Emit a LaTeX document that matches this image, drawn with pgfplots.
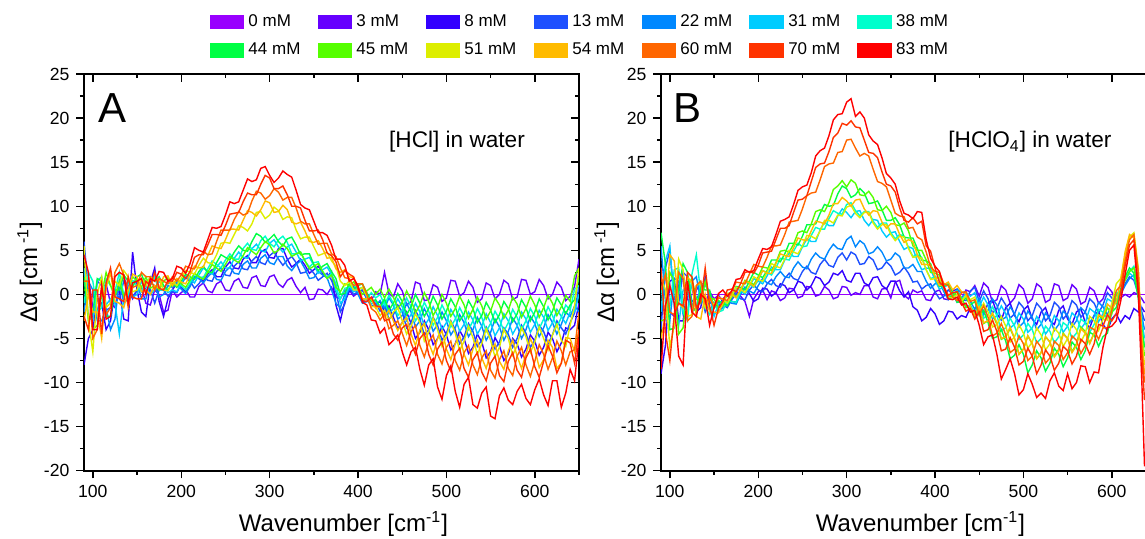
\documentclass[border=0pt]{standalone}
\usepackage{pgfplots}
\usepackage{pgfplotstable}
\usepackage{fontspec}
\setmainfont{Liberation Sans}
\pgfplotsset{compat=1.18}
\definecolor{c0}{HTML}{9900FF}
\definecolor{c1}{HTML}{6600FF}
\definecolor{c2}{HTML}{3300FF}
\definecolor{c3}{HTML}{1E50FF}
\definecolor{c4}{HTML}{0088FF}
\definecolor{c5}{HTML}{00CCFF}
\definecolor{c6}{HTML}{00FFCC}
\definecolor{c7}{HTML}{00FF44}
\definecolor{c8}{HTML}{55FF00}
\definecolor{c9}{HTML}{DDEE00}
\definecolor{c10}{HTML}{FFBB00}
\definecolor{c11}{HTML}{FF6600}
\definecolor{c12}{HTML}{FF3300}
\definecolor{c13}{HTML}{FF0000}

\pgfplotstableread{
x s1 s2 s3 s4 s5 s6 s7 s8 s9 s10 s11 s12 s13
90 1.0 -8.0 6.0 -2.0 3.0 -1.0 2.0 0.5 5.5 -3.0 1.5 -2.5 4.5
95 1.8 -5.0 0.5 1.5 -2.5 2.5 -3.0 0.5 -3.0 0.0 1.5 -4.0 2.5
100 -1.5 -4.0 -2.5 0.5 -3.0 1.5 -2.0 -4.0 -6.5 -2.0 -5.0 0.5 -4.0
105 -2.0 -0.5 1.5 -3.0 1.5 -2.0 1.8 -3.5 0.0 -2.0 -4.0 0.5 -4.0
110 0.5 -1.0 1.0 -3.0 2.0 -1.5 1.5 0.0 2.0 -5.0 1.0 -4.5 1.0
115 1.2 -4.0 -1.8 -1.5 -1.2 1.8 -2.5 2.5 -1.5 0.8 -2.3 1.3 -2.8
120 -1.0 -3.0 -1.5 -4.0 -0.5 1.0 -2.5 1.0 -1.0 2.5 -1.5 3.0 -2.5
125 -1.5 0.3 0.5 -2.8 -1.0 0.3 0.5 -0.3 1.5 -0.8 2.5 -0.3 2.0
130 1.0 0.5 -0.5 1.5 -4.5 2.5 0.5 1.5 1.0 -1.0 3.5 -0.5 2.5
135 2.0 -2.8 1.5 -1.0 -0.3 0.0 2.2 -0.2 2.7 -1.5 2.2 -0.8 2.2
140 0.5 -3.0 1.0 -0.5 1.5 0.0 1.5 0.5 2.0 0.5 -1.5 2.0 -1.0
145 -0.5 4.8 -0.3 1.5 -0.3 1.5 0.8 2.0 0.3 2.3 0.8 -0.3 1.3
150 0.5 0.5 0.5 1.5 0.0 1.0 2.0 1.5 0.5 2.0 1.0 -0.5 1.5
155 0.8 -2.0 1.5 -0.5 1.5 0.3 2.3 0.8 1.8 0.3 2.5 -0.5 1.8
160 -1.0 -2.5 0.5 -0.5 1.0 1.5 1.0 2.0 1.0 0.5 2.0 1.5 0.0
165 -1.2 1.3 0.6 1.3 0.0 1.0 2.0 0.7 2.0 0.0 2.0 1.0 1.8
170 0.5 3.0 -1.0 1.0 0.5 2.0 1.5 1.0 1.5 1.0 0.5 2.5 1.5
175 0.0 -0.8 0.5 -0.3 1.5 0.5 2.0 0.5 1.8 0.7 1.8 0.7 2.6
180 -2.0 -2.5 0.5 0.0 1.0 0.5 1.0 1.5 0.5 2.0 1.5 0.5 2.5
185 -1.8 -0.5 -0.2 1.0 0.2 1.4 0.5 1.9 0.4 2.1 1.2 1.6 1.5
190 0.5 0.5 0.3 0.8 0.5 1.0 1.2 1.0 1.5 1.0 2.0 1.5 1.8
195 -0.3 1.3 0.2 1.3 0.3 1.6 0.8 1.7 1.0 1.8 1.5 2.5 3.2
200 0.2 0.8 1.2 0.6 1.3 1.0 1.5 1.2 1.8 1.4 2.2 2.3 3.0
205 0.6 0.3 1.9 0.1 2.1 0.5 2.3 0.8 2.7 1.2 3.2 1.8 2.4
210 -0.3 1.0 1.5 0.9 1.7 1.3 2.0 1.6 2.5 2.2 3.0 2.6 3.5
215 -0.3 2.0 0.7 2.0 1.3 2.3 1.7 2.4 2.3 3.2 2.9 4.2 5.3
220 0.9 1.8 1.2 1.8 2.2 2.0 2.6 2.0 3.3 3.0 4.0 4.5 5.0
225 1.3 1.5 2.0 1.3 3.0 1.9 3.2 1.7 4.1 3.1 4.9 4.5 4.8
230 0.4 2.3 1.6 2.0 2.6 2.9 2.5 2.5 3.6 4.4 4.5 5.6 6.2
235 0.2 2.8 1.5 2.5 2.3 3.8 2.5 3.4 3.5 5.5 4.6 6.8 7.6
240 1.2 2.0 2.6 1.7 3.1 3.4 3.6 3.0 4.5 5.3 6.0 6.8 7.5
245 1.5 2.0 3.0 1.6 3.7 3.0 4.5 2.6 5.8 5.2 7.3 6.7 7.7
250 0.5 3.1 2.2 2.6 3.0 3.9 4.2 3.4 5.9 6.2 7.3 7.8 9.0
255 0.4 3.7 2.1 3.1 3.0 4.6 3.9 4.3 5.8 7.4 7.3 9.1 10.5
260 1.5 3.0 3.2 2.4 4.1 4.0 4.8 3.9 6.8 7.4 8.5 9.2 10.3
265 1.8 2.9 3.7 2.3 4.8 4.0 5.5 3.6 7.8 7.3 9.4 9.3 10.5
270 0.8 4.0 2.9 3.4 4.2 5.2 5.0 4.4 7.6 8.4 9.0 10.5 11.8
275 0.7 4.4 2.8 3.8 4.1 5.8 4.9 5.3 7.2 9.5 9.2 11.5 13.1
280 1.9 3.6 3.8 3.0 5.2 5.1 6.0 4.9 8.0 9.3 10.6 11.3 12.8
285 2.1 3.6 4.3 3.0 5.7 5.0 6.9 4.5 9.3 8.9 11.7 11.3 13.0
290 1.0 4.8 3.6 4.1 5.0 6.1 6.6 5.3 9.4 9.6 11.5 12.5 14.3
295 0.9 5.1 3.4 4.5 4.8 6.6 5.9 6.0 8.6 10.6 10.8 13.5 14.5
300 2.0 4.2 4.4 3.6 5.8 5.8 6.3 5.6 9.0 10.4 11.2 13.2 13.5
305 2.2 4.1 4.8 3.4 6.2 5.4 6.8 4.7 9.9 9.3 12.0 12.0 12.7
310 1.2 5.2 4.0 4.3 5.4 6.2 6.0 5.0 9.5 9.4 11.6 12.0 13.2
315 0.8 5.2 3.3 4.3 4.8 6.6 5.5 5.7 8.5 10.1 10.7 12.3 14.0
320 1.6 4.0 3.9 3.2 5.4 5.9 6.3 5.2 8.8 9.6 11.0 11.3 13.6
325 1.9 3.1 4.3 2.7 5.7 4.6 6.5 4.3 8.7 8.2 11.0 10.0 13.3
330 0.9 3.5 3.6 3.4 4.8 4.6 5.6 4.6 7.3 8.0 9.8 10.0 11.8
335 0.2 4.0 2.4 3.8 3.8 4.8 4.5 4.8 6.3 8.2 8.3 9.8 10.2
340 0.8 3.3 2.5 2.9 4.0 3.8 4.6 3.8 6.5 7.2 8.0 8.4 9.8
345 -0.6 2.4 3.0 1.8 4.2 3.1 4.6 2.9 6.5 6.0 8.0 7.2 9.6
350 -0.5 2.8 2.4 1.9 3.3 3.6 3.4 3.2 5.4 5.9 6.8 7.2 8.3
355 0.6 3.2 1.6 2.6 2.4 3.7 2.7 3.5 4.4 6.1 5.7 7.3 7.0
360 0.5 2.4 2.0 2.2 2.8 2.6 3.2 2.6 4.6 5.2 5.8 6.2 7.0
365 0.0 1.9 2.4 1.9 3.1 1.9 3.5 1.8 4.8 4.1 5.8 4.7 6.7
370 0.8 2.6 1.6 0.5 2.3 2.4 2.6 2.2 3.8 4.2 4.6 4.4 5.6
375 -0.3 -1.2 0.3 -1.0 1.2 0.5 1.8 0.8 3.2 2.9 4.3 3.7 4.0
380 -0.5 -3.0 -2.0 -1.5 -1.0 -0.5 0.0 0.3 1.5 2.5 3.0 2.0 4.0
385 0.5 -0.8 -1.1 0.0 -0.5 0.7 0.1 1.2 1.0 2.8 1.9 2.7 3.3
390 0.5 0.3 0.8 0.5 1.0 0.8 1.2 1.0 1.5 2.0 1.8 2.3 1.5
395 -0.2 0.9 0.0 0.8 0.3 1.1 0.6 1.4 0.5 1.9 1.0 2.0 1.8
400 0.2 0.5 0.3 0.0 0.6 0.4 1.0 0.8 0.5 0.8 1.2 0.6 1.0
405 0.5 -0.8 0.5 -1.0 0.8 -0.6 1.2 0.0 0.8 -0.5 1.2 -0.7 -0.9
410 -0.5 -0.8 -0.5 -0.8 -0.3 -0.5 0.2 0.4 -0.2 -0.5 0.0 -0.8 -1.2
415 -0.7 -0.4 -1.4 -0.5 -1.1 0.2 -0.8 0.8 -1.4 -0.5 -1.6 -0.3 -2.9
420 0.3 -1.2 -1.0 -1.3 -0.7 -0.4 -0.6 0.0 -1.4 -1.6 -2.0 -1.3 -3.0
425 0.0 -0.8 -1.9 -0.7 -1.6 0.0 -1.4 0.6 -2.4 -1.3 -2.9 -1.4 -4.4
430 2.5 -2.0 -1.2 -1.6 -0.8 -1.2 -0.5 -0.4 -1.8 -2.5 -2.2 -3.0 -3.8
435 0.1 -1.3 -2.8 -0.4 -2.2 -0.1 -1.8 0.6 -2.9 -1.8 -3.9 -2.8 -5.7
440 -0.3 -2.6 -2.3 -1.2 -1.6 -1.0 -1.0 -0.3 -2.0 -3.0 -3.5 -4.5 -5.2
445 1.2 -3.9 -1.2 -2.8 -0.5 -2.4 0.1 -1.6 -1.5 -4.1 -3.0 -5.2 -4.6
450 0.4 -3.2 -2.0 -2.4 -1.4 -1.8 -0.8 -0.9 -3.0 -3.2 -4.4 -3.8 -6.5
455 -1.2 -2.0 -3.8 -1.0 -3.0 -0.4 -2.3 0.4 -4.5 -2.6 -5.8 -3.4 -8.0
460 -0.8 -3.3 -3.2 -2.0 -2.3 -1.4 -1.4 -0.6 -3.6 -4.5 -4.2 -5.5 -6.5
465 1.4 -5.0 -1.8 -3.7 -1.0 -3.0 0.0 -2.1 -2.2 -5.8 -3.5 -6.8 -6.0
470 1.2 -4.3 -2.8 -3.0 -2.0 -2.2 -1.0 -1.2 -3.2 -4.0 -5.8 -5.0 -8.5
475 -0.7 -3.0 -4.6 -1.6 -3.6 -0.9 -2.5 0.2 -5.3 -3.3 -7.1 -4.4 -10.3
480 -0.6 -4.0 -4.0 -2.6 -2.8 -1.9 -1.6 -0.8 -4.3 -5.5 -5.4 -6.8 -8.0
485 1.1 -5.7 -2.6 -4.2 -1.4 -3.5 -0.2 -2.4 -2.7 -6.8 -4.6 -8.0 -7.3
490 0.8 -5.0 -3.5 -3.4 -2.4 -2.6 -1.2 -1.5 -4.0 -5.0 -6.8 -6.2 -10.5
495 -0.8 -3.6 -5.2 -2.0 -4.0 -1.2 -2.8 0.0 -5.9 -4.1 -7.9 -5.4 -11.9
500 -0.4 -4.6 -4.4 -3.0 -3.2 -2.2 -1.9 -1.0 -4.8 -6.2 -6.0 -7.5 -9.2
505 1.6 -6.3 -3.0 -4.6 -1.7 -3.7 -0.5 -2.5 -3.1 -7.4 -5.3 -8.7 -8.1
510 1.5 -5.6 -4.0 -3.8 -2.6 -2.8 -1.4 -1.6 -4.4 -5.6 -7.5 -6.8 -11.0
515 -0.2 -4.1 -5.6 -2.3 -4.2 -1.5 -3.0 -0.2 -6.4 -4.7 -8.6 -6.1 -12.8
520 0.2 -5.0 -4.8 -3.2 -3.4 -2.5 -2.2 -1.2 -5.3 -6.8 -6.6 -8.4 -10.2
525 1.5 -6.7 -3.3 -4.8 -2.0 -4.0 -0.7 -2.7 -3.6 -8.0 -5.8 -9.4 -9.4
530 0.8 -6.0 -4.2 -4.0 -2.9 -3.0 -1.6 -1.7 -4.9 -6.2 -8.0 -7.4 -12.5
535 -0.9 -4.5 -5.9 -2.6 -4.5 -1.6 -3.2 -0.3 -6.8 -5.2 -9.1 -6.6 -12.9
540 -0.5 -5.4 -5.2 -3.6 -3.6 -2.6 -2.4 -1.3 -5.6 -7.2 -7.2 -8.8 -11.2
545 1.3 -7.2 -3.7 -5.2 -2.2 -4.2 -0.9 -2.8 -3.9 -8.4 -6.4 -9.8 -10.5
550 1.0 -6.5 -4.6 -4.3 -3.2 -3.3 -1.8 -1.9 -5.2 -6.6 -8.6 -7.8 -13.8
555 -0.5 -4.9 -6.2 -2.8 -4.7 -1.9 -3.2 -0.4 -7.1 -5.6 -9.5 -7.0 -14.1
560 0.0 -5.8 -5.4 -3.7 -3.8 -2.8 -2.3 -1.2 -6.0 -7.6 -7.4 -9.2 -11.5
565 1.6 -7.5 -3.8 -5.2 -2.2 -4.2 -0.8 -2.7 -4.0 -8.5 -6.4 -9.9 -10.6
570 1.2 -6.8 -4.5 -4.2 -3.0 -3.2 -1.6 -1.8 -5.0 -6.4 -8.4 -7.6 -12.0
575 -0.6 -5.0 -6.0 -2.7 -4.5 -1.7 -3.1 -0.3 -6.9 -5.2 -9.2 -6.6 -12.5
580 -0.3 -5.6 -5.0 -3.5 -3.6 -2.6 -2.2 -1.1 -5.8 -7.0 -7.0 -8.6 -11.0
585 1.7 -7.1 -3.5 -5.0 -2.0 -4.0 -0.6 -2.6 -3.8 -8.4 -6.0 -9.4 -10.2
590 1.6 -6.2 -4.4 -4.0 -2.8 -3.0 -1.5 -1.6 -4.8 -6.8 -8.0 -7.2 -11.8
595 0.0 -4.6 -6.0 -2.5 -4.3 -1.6 -3.0 -0.2 -6.6 -5.0 -9.3 -6.2 -12.5
600 0.3 -5.3 -5.2 -3.3 -3.4 -2.5 -2.0 -1.2 -5.4 -6.2 -7.6 -8.2 -10.8
605 1.7 -6.9 -3.5 -4.8 -1.8 -3.9 -0.5 -2.6 -3.7 -8.3 -5.7 -9.4 -9.6
610 1.0 -6.0 -4.2 -3.8 -2.6 -2.8 -1.4 -1.5 -5.0 -7.4 -6.8 -7.6 -11.4
615 -0.5 -4.3 -5.6 -2.3 -4.1 -1.4 -2.9 -0.1 -6.3 -5.2 -8.5 -5.8 -12.6
620 0.0 -5.0 -4.6 -3.2 -3.2 -2.4 -1.9 -1.0 -4.6 -6.0 -7.2 -7.0 -9.8
625 1.4 -6.5 -3.0 -4.5 -1.7 -3.7 -0.4 -2.4 -3.4 -8.4 -5.3 -8.9 -9.8
630 0.8 -5.5 -3.8 -3.4 -2.5 -2.6 -1.2 -1.4 -5.2 -7.8 -6.4 -7.8 -12.8
635 -0.7 -3.8 -4.5 -2.0 -3.3 -1.2 -2.2 -0.1 -5.9 -4.9 -8.0 -5.2 -11.2
640 -0.2 -4.0 -3.2 -2.5 -2.0 -1.8 -1.2 -0.8 -3.5 -5.0 -6.5 -5.5 -8.5
645 0.9 -3.5 -2.1 -1.3 -2.0 0.6 -0.6 2.1 -1.3 -6.5 -6.3 -7.8 -9.8
650 4.0 -1.0 1.0 -2.0 0.0 1.0 2.0 3.0 3.0 -4.0 -2.0 -4.0 -5.0
}\tabA

\pgfplotstableread{
x s1 s2 s3 s4 s5 s6 s7 s8 s9 s10 s11 s12 s13
90 3.0 -9.0 -4.0 5.5 -2.0 1.0 7.0 -3.0 2.0 -5.0 0.5 3.0 -8.5
95 2.5 -5.8 3.0 -0.8 3.8 -2.8 3.5 -2.8 0.5 -2.3 2.3 -4.3 -1.3
100 -2.0 1.5 5.0 -3.0 5.5 -1.5 -4.0 2.5 -6.0 4.5 -2.0 -7.5 1.0
105 -2.5 1.8 -0.5 1.8 -1.5 2.8 -3.8 1.5 -3.5 3.8 -2.3 -2.3 -1.0
110 1.0 -3.0 -1.0 1.5 -3.5 3.0 0.5 -4.5 4.0 -1.0 2.5 -1.0 -7.0
115 2.3 -3.0 2.5 -2.3 0.5 -2.0 3.5 -3.8 2.8 -1.5 1.8 -1.3 -8.0
120 -0.5 1.0 2.0 -2.0 0.5 -3.0 2.5 1.0 -2.5 2.0 -3.0 2.5 1.5
125 -1.5 1.0 -0.8 1.5 -2.0 2.3 -1.3 1.8 -2.3 1.3 -2.5 2.0 -2.0
130 0.5 -2.0 -0.5 2.0 -1.5 4.5 -2.0 -0.5 1.0 -2.5 1.0 -1.5 -2.5
135 1.3 -1.5 0.3 -0.8 1.3 0.0 0.8 -1.0 1.3 -2.8 1.5 -0.8 0.0
140 -1.0 2.0 -2.0 -0.5 1.0 -1.5 0.5 1.5 -1.5 0.0 -1.0 3.0 -0.5
145 0.3 -0.5 -0.8 -1.8 0.3 -2.3 0.5 -0.5 -0.4 -2.0 -0.3 -1.3 -3.5
150 -0.5 -1.0 -1.5 -1.0 -2.5 -1.0 -1.5 -0.5 -1.2 -2.0 -1.5 -3.5 -1.5
155 -0.1 -1.4 -0.8 -1.9 -1.1 -2.0 -0.7 -1.5 -0.3 -2.1 -0.4 -1.6 0.1
160 -0.8 -0.5 -1.2 -1.5 -0.8 -1.8 -1.0 -1.3 -0.6 -1.0 -0.5 -0.8 0.5
165 -1.2 -0.1 -1.5 -0.7 -1.1 -0.7 -1.3 0.1 -1.0 0.1 -0.7 0.5 -0.2
170 -0.3 -0.8 -0.6 -1.0 -0.2 -0.8 -0.3 0.2 -0.2 0.0 0.3 0.6 0.4
175 0.4 -0.9 0.1 -1.1 0.7 -0.9 0.9 -0.3 0.8 -0.4 1.4 0.3 1.7
180 -0.2 0.2 -0.5 0.0 0.4 0.3 0.8 0.5 0.6 0.5 1.3 1.2 1.8
185 -0.8 0.8 -0.6 0.8 0.0 1.4 0.5 1.6 0.2 1.5 1.2 2.5 2.8
190 -2.5 0.1 0.5 0.4 0.9 1.2 1.5 1.4 1.0 1.3 2.3 2.6 2.5
195 -0.5 -0.8 1.1 0.1 1.8 0.8 2.5 1.1 2.0 0.9 3.4 2.4 2.7
200 0.3 -0.5 0.5 1.0 1.5 1.6 2.2 2.0 1.7 1.8 3.2 3.3 4.0
205 0.5 0.7 0.3 1.8 1.2 2.7 1.9 3.1 1.5 2.7 3.1 4.7 5.2
210 -0.6 0.6 1.2 1.3 2.1 2.5 2.7 3.0 2.5 2.4 4.2 4.8 5.1
215 0.4 -0.2 1.7 1.1 3.1 2.2 3.9 2.7 3.5 2.4 5.5 4.9 5.4
220 0.2 0.2 1.0 2.0 2.8 3.0 3.9 3.6 3.2 3.5 5.5 6.2 6.8
225 -0.7 1.2 0.8 2.6 2.8 4.1 3.7 4.9 3.0 4.6 5.6 7.5 8.3
230 -0.4 1.0 1.8 2.0 3.9 4.0 4.6 5.0 4.0 4.4 6.8 7.5 8.5
235 0.7 0.2 2.4 1.9 4.7 3.9 5.8 4.8 5.0 4.3 8.2 7.8 8.8
240 0.6 0.5 1.8 3.0 4.3 4.9 5.8 5.7 4.8 5.3 8.3 9.3 10.2
245 -0.4 1.5 1.6 3.7 4.3 5.8 5.6 7.0 4.6 6.4 8.4 10.7 11.8
250 -0.2 1.3 2.6 3.1 5.4 5.4 6.6 7.2 5.5 6.2 9.7 10.8 12.2
255 0.9 0.5 3.2 2.9 6.3 5.5 7.9 7.0 6.7 6.1 11.2 11.2 12.4
260 0.8 1.0 2.5 4.0 6.0 6.7 7.9 8.0 6.6 7.2 11.5 12.8 13.8
265 -0.2 2.0 2.3 4.7 6.0 7.6 8.0 9.4 6.3 8.3 11.6 14.4 15.7
270 0.0 1.8 3.4 4.2 7.3 7.4 9.2 9.6 7.2 8.2 13.0 14.8 16.3
275 0.9 1.0 4.0 4.0 8.2 7.4 10.2 9.4 8.4 8.0 14.5 14.9 16.6
280 0.5 1.4 3.3 5.0 7.8 8.6 10.0 10.4 8.4 9.0 14.8 16.2 18.0
285 -0.5 2.4 3.1 5.7 7.8 9.5 10.1 11.9 8.1 10.3 14.9 17.8 19.8
290 -0.3 2.2 4.2 5.2 8.9 9.2 11.4 12.3 9.0 10.3 16.1 18.3 20.4
295 0.9 2.7 4.7 5.1 9.7 9.1 12.3 12.9 8.9 11.0 16.2 19.4 20.5
300 0.8 1.6 3.9 6.2 9.3 10.2 12.0 12.2 9.9 10.6 17.5 19.2 21.8
305 -0.1 1.4 4.8 6.6 8.7 10.4 11.0 13.0 10.1 10.0 17.6 19.7 22.2
310 0.2 2.4 4.5 5.4 9.4 9.5 11.3 12.6 9.2 10.7 16.6 19.0 20.2
315 0.0 2.4 3.4 6.1 9.5 8.9 12.0 11.3 8.7 10.8 15.7 18.9 20.7
320 1.0 1.3 3.5 5.7 8.4 9.4 11.5 11.2 9.3 9.7 16.0 17.5 20.0
325 1.0 1.0 4.3 4.6 7.8 9.4 10.3 11.7 9.3 9.0 15.7 16.1 18.1
330 -0.3 1.9 3.9 4.8 8.5 8.3 10.4 11.0 8.1 9.5 14.2 16.0 17.4
335 -0.5 2.0 2.8 5.4 8.4 7.6 10.6 9.6 7.4 9.4 12.8 15.5 17.0
340 0.6 1.0 3.0 4.8 7.2 8.1 9.6 9.5 7.9 8.2 12.6 13.9 15.5
345 0.7 0.6 3.7 3.8 6.5 8.1 8.4 10.0 7.9 7.5 12.2 12.5 13.7
350 -0.4 1.5 3.2 4.0 7.0 7.0 8.4 9.3 6.8 8.0 10.7 12.3 13.2
355 1.4 1.5 2.2 4.7 7.1 6.3 8.7 7.9 6.1 8.0 9.2 11.6 12.5
360 1.6 0.4 2.5 4.3 6.0 6.8 7.9 7.8 6.6 6.8 8.9 9.8 10.6
365 -0.1 -0.3 3.1 3.0 5.1 6.6 6.5 8.1 6.5 5.9 8.8 8.4 9.2
370 -0.5 0.3 2.4 3.0 5.4 5.3 6.4 7.2 5.2 6.2 7.5 8.2 9.0
375 0.5 -1.4 1.4 3.4 5.2 4.3 6.4 5.5 4.2 6.0 7.6 8.7 8.6
380 0.2 -1.8 1.5 2.6 3.8 4.5 5.2 5.0 4.3 4.5 6.5 8.0 9.4
385 0.4 -3.0 0.6 2.6 2.8 4.2 3.9 5.0 4.1 3.4 6.2 8.3 9.3
390 -0.6 -2.6 1.0 1.5 3.0 2.8 3.8 3.9 2.8 3.4 4.8 5.5 6.2
395 -0.7 -1.6 1.2 0.7 2.9 1.8 3.5 2.5 1.7 3.3 3.1 4.9 4.1
400 0.3 -2.2 0.3 1.2 1.6 2.0 2.0 2.4 1.8 2.0 2.6 3.0 3.2
405 0.5 -3.4 -0.5 1.4 0.6 1.9 0.9 2.2 1.9 1.0 2.5 1.4 2.6
410 -0.5 -3.0 -0.2 0.3 0.8 0.6 1.0 0.7 0.8 1.1 1.2 0.9 0.8
415 -0.6 -1.9 0.5 -0.6 1.1 -0.3 1.2 -0.4 -0.4 1.4 1.0 -0.1 -0.5
420 0.4 -2.0 0.0 -0.3 0.2 0.0 0.3 -0.2 -0.4 0.5 -0.3 0.2 -0.6
425 0.6 -2.8 -0.9 0.6 -0.8 0.4 -0.9 0.3 0.0 1.0 -0.7 0.3 -0.3
430 -0.5 -2.4 -0.6 0.2 -0.6 -0.4 -0.8 -0.4 -0.8 0.3 0.2 -0.9 -1.2
435 0.5 -2.6 -0.7 0.3 0.2 -1.4 -0.4 -1.5 -0.1 0.1 0.3 -1.9 -1.0
440 0.3 -1.5 0.4 -0.8 -0.2 -1.2 -1.2 -1.4 -0.6 -1.4 -0.8 -1.6 -2.0
445 1.0 -2.6 0.8 -1.7 0.2 -2.1 -0.8 -2.5 -0.3 -2.4 -0.6 -2.8 -1.8
450 -0.2 -1.6 -0.8 -0.5 -1.4 -1.0 -2.4 -1.6 -2.0 -1.4 -2.3 -2.0 -3.5
455 1.3 -2.3 0.4 -2.2 -0.3 -2.7 -1.8 -3.3 -1.0 -3.2 -1.3 -4.2 -5.7
460 0.8 -1.0 -0.5 -1.8 -1.2 -2.3 -3.2 -3.0 -2.0 -3.0 -2.6 -4.0 -4.8
465 -0.9 -0.6 -2.1 -0.5 -2.8 -1.4 -5.0 -2.2 -3.7 -2.1 -4.7 -2.9 -4.6
470 -0.6 -2.2 -1.6 -1.2 -2.4 -2.4 -4.8 -3.4 -3.4 -3.2 -4.4 -4.2 -6.8
475 1.0 -2.9 -0.4 -2.9 -1.3 -4.1 -4.0 -5.1 -2.5 -5.0 -3.3 -6.4 -9.6
480 0.5 -1.5 -1.2 -2.6 -2.2 -3.8 -5.3 -4.8 -3.6 -4.8 -4.6 -6.2 -8.5
485 -1.0 -1.0 -2.7 -1.4 -3.8 -2.7 -7.3 -3.9 -5.4 -3.7 -6.6 -4.9 -7.3
490 -0.4 -2.4 -2.2 -2.2 -3.4 -3.6 -6.9 -5.0 -4.8 -5.0 -6.2 -6.0 -9.0
495 1.1 -3.1 -0.9 -3.7 -2.1 -5.1 -5.7 -6.8 -3.4 -6.8 -4.7 -8.0 -11.4
500 0.6 -1.8 -1.5 -3.2 -2.8 -4.6 -6.8 -6.2 -4.4 -6.2 -5.6 -7.6 -10.8
505 -1.0 -1.3 -3.0 -1.9 -4.3 -3.3 -8.9 -4.7 -6.1 -4.7 -7.5 -6.1 -9.0
510 -0.5 -2.8 -2.4 -2.6 -3.8 -4.0 -8.0 -5.6 -5.4 -5.6 -7.0 -7.0 -10.2
515 1.2 -3.4 -1.0 -4.0 -2.5 -5.5 -6.4 -7.3 -3.8 -7.3 -5.3 -9.0 -11.7
520 0.8 -2.0 -1.6 -3.4 -3.2 -5.0 -7.2 -6.6 -4.6 -6.6 -6.0 -8.0 -11.2
525 -0.9 -1.5 -3.0 -2.1 -4.5 -3.6 -8.7 -4.8 -6.3 -4.8 -7.8 -6.3 -11.8
530 -0.6 -3.0 -2.4 -2.8 -3.8 -4.2 -7.8 -5.4 -5.6 -5.4 -7.2 -7.0 -9.8
535 1.2 -3.4 -0.9 -4.1 -2.4 -5.5 -6.1 -7.0 -3.8 -7.1 -5.3 -8.6 -8.9
540 1.0 -1.8 -1.4 -3.4 -3.0 -4.8 -6.8 -6.2 -4.4 -6.4 -5.8 -7.8 -10.4
545 -0.7 -1.3 -2.8 -1.9 -4.3 -3.2 -8.2 -4.4 -5.9 -4.5 -7.4 -5.9 -10.9
550 -0.4 -2.8 -2.2 -2.4 -3.6 -3.6 -7.2 -5.0 -5.0 -5.0 -6.6 -6.4 -9.0
555 1.1 -3.4 -0.7 -3.7 -2.1 -5.0 -5.4 -6.5 -3.3 -6.6 -4.7 -7.9 -10.7
560 0.6 -2.0 -1.2 -3.0 -2.6 -4.4 -6.0 -5.6 -4.0 -5.8 -5.2 -7.0 -10.0
565 -1.1 -1.6 -2.6 -1.5 -3.9 -2.8 -7.4 -3.7 -5.4 -3.9 -6.7 -5.1 -8.1
570 -0.8 -3.2 -2.0 -2.0 -3.2 -3.2 -6.4 -4.2 -4.4 -4.4 -5.8 -5.6 -8.2
575 0.8 -3.8 -0.5 -3.2 -1.6 -4.3 -4.3 -5.5 -2.5 -5.6 -3.7 -6.8 -10.0
580 0.4 -2.4 -1.0 -2.4 -2.0 -3.4 -4.6 -4.4 -3.0 -4.4 -4.0 -5.6 -8.8
585 -1.0 -1.9 -2.1 -0.9 -3.1 -1.7 -5.9 -2.4 -4.1 -2.3 -5.1 -3.4 -8.9
590 -0.5 -3.4 -1.2 -1.4 -2.2 -2.0 -4.8 -2.8 -2.8 -2.6 -3.8 -3.6 -6.0
595 0.9 -4.1 0.2 -2.3 -0.5 -2.8 -4.4 -1.5 -2.9 -1.1 -3.8 -2.3 -3.8
600 0.3 -2.8 -0.4 -1.2 -0.8 -1.6 -2.0 -2.2 -1.0 -1.6 -1.8 -3.0 -3.6
605 -1.0 -2.2 -0.8 0.2 -0.9 0.2 -1.5 -0.1 1.2 -0.9 0.4 -2.2 -3.0
610 -0.4 -3.2 0.4 0.0 0.6 0.3 0.6 0.4 1.8 1.5 1.0 0.2 -0.8
615 0.0 -2.4 1.2 1.0 1.6 1.8 2.0 1.6 4.5 4.8 3.8 3.2 2.2
620 -0.3 -2.8 2.0 1.8 2.4 2.6 3.0 2.6 6.5 6.8 6.2 5.6 5.0
625 0.2 -1.6 1.6 2.2 2.0 3.2 2.4 3.0 7.0 6.4 6.8 6.2 5.6
630 0.0 -2.0 0.0 0.5 0.0 1.0 -0.5 0.5 3.0 2.5 2.5 1.0 0.0
634 -0.5 -1.5 -2.0 -2.5 -3.0 -3.5 -4.0 -4.5 -5.0 -5.5 -6.0 -7.0 -10.0
637 -1.0 -2.0 -3.0 -4.0 -5.0 -6.0 -6.0 -7.0 -8.0 -9.0 -10.0 -12.0 -19.5
}\tabB

\pgfplotsset{
  panel/.style={
    scale only axis, width=247.5pt, height=198.35pt,
    anchor=south west,
    xmin=90, xmax=650, ymin=-20, ymax=25,
    xtick={100,200,...,600}, minor xtick={150,250,...,650},
    ytick={-20,-15,...,25}, minor ytick={-17.5,-12.5,...,22.5},
    axis line style={line width=0.8pt},
    major tick length=3.8pt, minor tick length=2pt,
    every tick/.style={black, line width=0.7pt},
    every axis plot/.append style={line width=0.7pt},
  },
  frame/.style={
    panel, tick pos=right, tick align=inside,
    xticklabels={}, yticklabels={},
  },
  mainax/.style={
    panel, tick pos=left, tick align=outside,
    ticklabel style={font=\fontsize{8.8}{10}\selectfont},
    /pgf/number format/assume math mode=true,
    label style={font=\fontsize{12}{14}\selectfont},
    xlabel={Wavenumber [cm\textsuperscript{-1}]},
    ylabel={Δα [cm\,\textsuperscript{-1}]},
    xlabel style={xshift=6pt},
    ylabel shift=-6pt,
    clip=true,
  },
}

\begin{document}
\begin{tikzpicture}
\useasboundingbox (0,0) rectangle (572.5pt,269pt);
% ---------------- Panel A ----------------
\begin{axis}[frame, at={(42pt,33.65pt)}]
\end{axis}
\begin{axis}[mainax, at={(42pt,33.65pt)},
  legend columns=7,
  legend cell align=left,
  legend image code/.code={\fill[#1] (0pt,-3.25pt) rectangle (16.5pt,3.25pt);},
  legend style={at={(0.2531,1.1512)}, anchor=north west, draw=none, fill=none,
    inner sep=0pt, font=\fontsize{8.5}{10}\selectfont,
    nodes={inner sep=0pt},
    /tikz/every odd column/.append style={column sep=2.2pt},
    /tikz/every even column/.append style={column sep=8.6pt},
    row sep=6.8pt},
]
\addplot[color=c0] coordinates {(90,0) (650,0)};
\addplot[color=c1] table[x=x,y=s1]{\tabA};
\addplot[color=c2] table[x=x,y=s2]{\tabA};
\addplot[color=c3] table[x=x,y=s3]{\tabA};
\addplot[color=c4] table[x=x,y=s4]{\tabA};
\addplot[color=c5] table[x=x,y=s5]{\tabA};
\addplot[color=c6] table[x=x,y=s6]{\tabA};
\addplot[color=c7] table[x=x,y=s7]{\tabA};
\addplot[color=c8] table[x=x,y=s8]{\tabA};
\addplot[color=c9] table[x=x,y=s9]{\tabA};
\addplot[color=c10] table[x=x,y=s10]{\tabA};
\addplot[color=c11] table[x=x,y=s11]{\tabA};
\addplot[color=c12] table[x=x,y=s12]{\tabA};
\addplot[color=c13] table[x=x,y=s13]{\tabA};
\legend{0 mM,3 mM,8 mM,13 mM,22 mM,31 mM,38 mM,44 mM,45 mM,51 mM,54 mM,60 mM,70 mM,83 mM}
\node[font=\fontsize{21}{24}\selectfont] at (axis cs:122,21.1) {A};
\node[font=\fontsize{11.3}{13}\selectfont] at (axis cs:512,17.3) {[HCl] in water};
\end{axis}
% ---------------- Panel B ----------------
\begin{axis}[frame, at={(330.5pt,33.65pt)}]
\end{axis}
\begin{axis}[mainax, at={(330.5pt,33.65pt)}]
\addplot[color=c0] coordinates {(90,0) (637,0)};
\addplot[color=c1] table[x=x,y=s1]{\tabB};
\addplot[color=c2] table[x=x,y=s2]{\tabB};
\addplot[color=c3] table[x=x,y=s3]{\tabB};
\addplot[color=c4] table[x=x,y=s4]{\tabB};
\addplot[color=c5] table[x=x,y=s5]{\tabB};
\addplot[color=c6] table[x=x,y=s6]{\tabB};
\addplot[color=c7] table[x=x,y=s7]{\tabB};
\addplot[color=c8] table[x=x,y=s8]{\tabB};
\addplot[color=c9] table[x=x,y=s9]{\tabB};
\addplot[color=c10] table[x=x,y=s10]{\tabB};
\addplot[color=c11] table[x=x,y=s11]{\tabB};
\addplot[color=c12] table[x=x,y=s12]{\tabB};
\addplot[color=c13] table[x=x,y=s13]{\tabB};
\node[font=\fontsize{21}{24}\selectfont] at (axis cs:120.5,21.1) {B};
\node[font=\fontsize{11.3}{13}\selectfont] at (axis cs:507.4,17.3) {[HClO\textsubscript{4}] in water};
\end{axis}
\end{tikzpicture}
\end{document}
